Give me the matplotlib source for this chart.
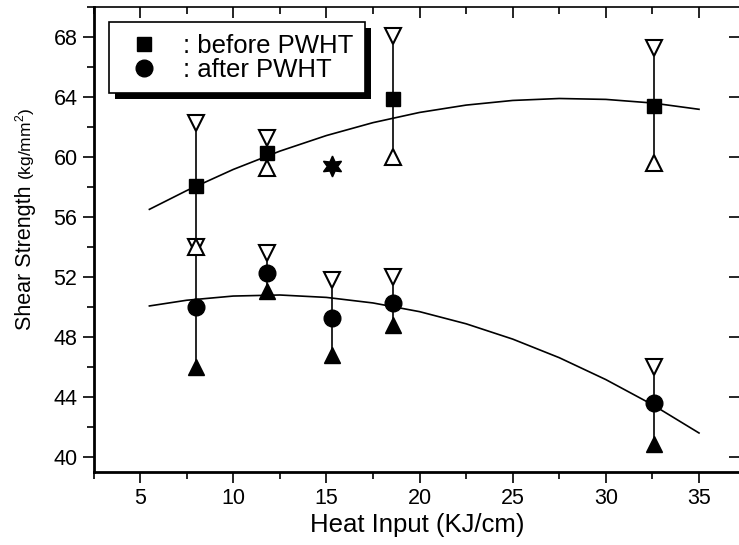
import matplotlib
matplotlib.use('Agg')
import matplotlib.pyplot as plt
from matplotlib.patches import Rectangle
from matplotlib.lines import Line2D
from matplotlib.ticker import MultipleLocator, FormatStrFormatter

plt.rcParams['font.family'] = ['Liberation Sans', 'DejaVu Sans']
plt.rcParams['mathtext.fontset'] = 'custom'
plt.rcParams['mathtext.rm'] = 'Liberation Sans'

# 数据
heat_input = [8.0, 11.8, 15.3, 18.6, 32.6]
before_mean = [58.1, 60.3, 59.4, 63.9, 63.4]
before_max = [62.3, 61.3, 59.5, 68.1, 67.3]
before_min = [54.0, 59.3, 59.3, 60.0, 59.6]
after_mean = [50.0, 52.3, 49.3, 50.3, 43.6]
after_max = [54.0, 53.6, 51.8, 52.0, 46.0]
after_min = [46.0, 51.1, 46.8, 48.8, 40.9]

# 拟合曲线（读取的点）
fit_x = [5.5, 7.5, 10, 12.5, 15, 17.5, 20, 22.5, 25, 27.5, 30, 32.5, 35]
before_fit = [56.51, 57.76, 59.17, 60.39, 61.43, 62.29, 62.97, 63.46, 63.77, 63.90, 63.84, 63.60, 63.18]
after_fit = [50.07, 50.45, 50.73, 50.80, 50.64, 50.27, 49.69, 48.88, 47.86, 46.62, 45.16, 43.49, 41.60]

fig = plt.figure(figsize=(7.39, 5.45), dpi=100)
W, H = 739, 545
ax = fig.add_axes([93.5 / W, (H - 472) / H, (740 - 93.5) / W, (472 - 7) / H])
ax.set_xlim(2.5, 37.2)
ax.set_ylim(39, 70)

# 拟合曲线
ax.plot(fit_x, before_fit, color='k', lw=1.2, zorder=2)
ax.plot(fit_x, after_fit, color='k', lw=1.2, zorder=2)

# 误差线
ax.vlines(heat_input, before_min, before_max, color='k', lw=1.2, zorder=2)
ax.vlines(heat_input, after_min, after_max, color='k', lw=1.2, zorder=2)

# 处理前：范围很小时上下三角形叠成实心六角星
narrow = [hi - lo < 0.5 for hi, lo in zip(before_max, before_min)]
wide_x = [x for x, n in zip(heat_input, narrow) if not n]
wide_mean = [y for y, n in zip(before_mean, narrow) if not n]
wide_max = [y for y, n in zip(before_max, narrow) if not n]
wide_min = [y for y, n in zip(before_min, narrow) if not n]
star_x = [x for x, n in zip(heat_input, narrow) if n]
star_y = [y for y, n in zip(before_mean, narrow) if n]

ax.plot(wide_x, wide_mean, ls='none', marker='s', ms=10, color='k', zorder=4)
ax.plot(wide_x, wide_max, ls='none', marker='v', ms=11, mfc='white',
        mec='k', mew=1.5, zorder=5)
ax.plot(wide_x, wide_min, ls='none', marker='^', ms=11, mfc='white',
        mec='k', mew=1.5, zorder=5)
ax.plot(star_x, star_y, ls='none', marker=(6, 1, 0), ms=15, color='k', zorder=5)

# 处理后
ax.plot(heat_input, after_max, ls='none', marker='v', ms=11, mfc='white',
        mec='k', mew=1.5, zorder=4)
ax.plot(heat_input, after_min, ls='none', marker='^', ms=11, color='k', zorder=4)
ax.plot(heat_input, after_mean, ls='none', marker='o', ms=12, color='k', zorder=5)

# 坐标轴刻度
ax.xaxis.set_major_locator(MultipleLocator(5))
ax.xaxis.set_minor_locator(MultipleLocator(2.5))
ax.yaxis.set_major_locator(MultipleLocator(4))
ax.yaxis.set_minor_locator(MultipleLocator(2))
ax.tick_params(axis='both', which='major', labelsize=15.5, width=1.2, length=8, color='k')
ax.tick_params(axis='both', which='minor', width=1.2, length=5)
ax.tick_params(axis='x', which='both', top=True, bottom=True, direction='out')
ax.tick_params(axis='y', which='major', right=True)
ax.tick_params(axis='y', which='minor', right=False)
for t in ax.xaxis.get_major_ticks() + ax.xaxis.get_minor_ticks():
    t.tick2line.set_marker(3)  # 顶部刻度朝内
for t in ax.yaxis.get_major_ticks():
    t.tick2line.set_marker(0)  # 右侧刻度朝内
ax.xaxis.set_major_formatter(FormatStrFormatter('%d'))
ax.yaxis.set_major_formatter(FormatStrFormatter('%d'))

ax.spines['left'].set_linewidth(2.0)
ax.spines['bottom'].set_linewidth(2.0)
ax.spines['top'].set_linewidth(1.2)
ax.spines['right'].set_linewidth(1.2)

ax.set_xlabel('Heat Input (KJ/cm)', fontsize=18.5, labelpad=3)

# y轴标签（两种字号）
t1 = fig.text(25 / W, 1 - 258 / H, 'Shear Strength', rotation=90,
              fontsize=15.5, ha='center', va='center')
ax.annotate('(kg/mm$^{2}$)', xy=(0.5, 1.0), xycoords=t1, xytext=(0.5, 4),
            textcoords='offset points', rotation=90, fontsize=12.5,
            ha='center', va='bottom')

# 图例
handles = [Line2D([], [], ls='none', marker='s', ms=10, color='k'),
           Line2D([], [], ls='none', marker='o', ms=12, color='k')]
leg = ax.legend(handles, [': before PWHT', ': after PWHT'], loc='upper left',
                bbox_to_anchor=(15 / 646.5, 1 - 15 / 465), borderaxespad=0,
                fontsize=18.5, frameon=True, fancybox=False, framealpha=1,
                edgecolor='k', handlelength=1.9, handletextpad=0.55,
                borderpad=0.45, labelspacing=0.0)
leg.get_frame().set_linewidth(1.2)

# 图例阴影
fig.canvas.draw()
bb = leg.get_window_extent().transformed(fig.transFigure.inverted())
shadow = Rectangle((bb.x0 + 6 / W, bb.y0 - 6 / H), bb.width, bb.height,
                   transform=fig.transFigure, facecolor='k', edgecolor='none',
                   zorder=4.9)
ax.add_patch(shadow)

fig.savefig('out.png', dpi=100)
